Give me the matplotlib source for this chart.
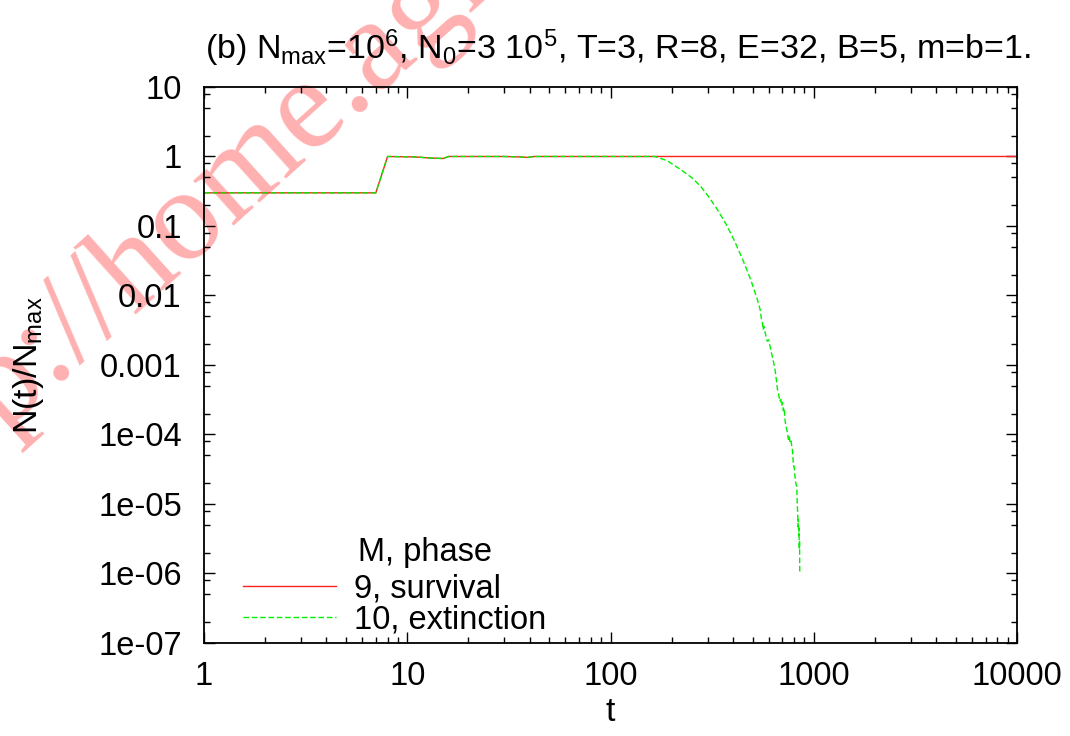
import matplotlib
matplotlib.use("Agg")
import matplotlib.pyplot as plt
from matplotlib.ticker import FixedLocator, LogLocator, NullFormatter

plt.rcParams["font.family"] = ["Liberation Sans", "DejaVu Sans"]
plt.rcParams["mathtext.fontset"] = "custom"
plt.rcParams["mathtext.rm"] = "Liberation Sans"
plt.rcParams["mathtext.it"] = "Liberation Sans:italic"
plt.rcParams["mathtext.default"] = "regular"

# ---- data -------------------------------------------------------------
# common history of both runs (t, N/Nmax)
t_early = [1, 7, 8, 11, 13, 15, 16, 30, 36, 39, 42, 100, 165]
n_early = [0.3, 0.3, 1.0, 0.985, 0.95, 0.935, 1.0, 1.0, 0.985, 0.97, 1.0, 1.0, 1.0]

# M = 9: population survives at the carrying capacity
t_survival_tail = [10000]
n_survival_tail = [1.0]

# M = 10: population goes extinct
t_extinction_tail = [190, 221, 250, 277, 305, 335, 370, 404, 445, 489, 528, 545,
                     553, 559, 563, 568, 575, 590, 600, 614, 630, 645, 655, 662,
                     670, 680, 688, 695, 701, 708, 715, 722, 730, 742, 750, 757,
                     765, 772, 780, 785, 790, 795, 800, 805, 812, 818, 825, 829,
                     833, 837, 840, 843, 846, 849, 851, 853]
n_extinction_tail = [0.87, 0.65, 0.50, 0.374, 0.26, 0.173, 0.107, 0.064, 0.034,
                     0.017, 8.7e-3, 6.2e-3, 4.5e-3, 4.1e-3, 3.2e-3, 3.6e-3, 3.0e-3,
                     2.2e-3, 2.3e-3, 1.66e-3, 1.2e-3, 8.5e-4, 6.0e-4, 4.5e-4, 4.0e-4,
                     3.0e-4, 3.2e-4, 2.6e-4, 2.9e-4, 2.2e-4, 2.4e-4, 1.6e-4, 1.3e-4,
                     1.07e-4, 8.5e-5, 9.5e-5, 7.5e-5, 8.0e-5, 6.8e-5, 6.0e-5, 4.5e-5,
                     3.5e-5, 3.5e-5, 2.8e-5, 2.2e-5, 1.9e-5, 1.8e-5, 1.0e-5, 7.5e-6,
                     4.7e-6, 6.0e-6, 3.5e-6, 4.5e-6, 2.2e-6, 3.0e-6, 1.0e-6]

series_labels = ["9, survival", "10, extinction"]
legend_title = "M, phase"

x_ticks = [1, 10, 100, 1000, 10000]
x_ticklabels = ["1", "10", "100", "1000", "10000"]
y_ticks = [1e-7, 1e-6, 1e-5, 1e-4, 1e-3, 1e-2, 1e-1, 1, 10]
y_ticklabels = ["1e-07", "1e-06", "1e-05", "1e-04", "0.001", "0.01", "0.1", "1", "10"]
y_minor_subs = [2, 5, 8]

title = (r"(b) N$_{max}$=10$^{6}$, N$_{0}$=3 10$^{5}$, "
         r"T=3, R=8, E=32, B=5, m=b=1.")

# ---- figure -----------------------------------------------------------
FS_TICK = 23.5
FS_TEXT = 24.5
FS_LEGEND = 23.5
fig = plt.figure(figsize=(10.70, 7.36), dpi=100)
ax = fig.add_axes([0.1907, 0.1264, 0.7598, 0.7554])
ax.patch.set_alpha(0)

t_surv = t_early + t_survival_tail
n_surv = n_early + n_survival_tail
t_ext = t_early + t_extinction_tail
n_ext = n_early + n_extinction_tail

ax.plot(t_surv, n_surv, color="#ff2020", lw=1.0, label=series_labels[0])
ax.plot(t_ext, n_ext, color="#00f000", lw=1.0, ls=(0, (4, 2)),
        label=series_labels[1])

ax.set_xscale("log")
ax.set_yscale("log")
ax.set_xlim(1, 10000)
ax.set_ylim(1e-7, 10)

ax.xaxis.set_major_locator(FixedLocator(x_ticks))
ax.set_xticklabels(x_ticklabels)
ax.xaxis.set_minor_locator(LogLocator(base=10, subs=range(2, 10), numticks=50))
ax.xaxis.set_minor_formatter(NullFormatter())

ax.yaxis.set_major_locator(FixedLocator(y_ticks))
ax.set_yticklabels(y_ticklabels)
y_minor = [s * d for d in y_ticks[:-1] for s in y_minor_subs]
ax.yaxis.set_minor_locator(FixedLocator(y_minor))
ax.yaxis.set_minor_formatter(NullFormatter())

ax.tick_params(which="both", direction="in", top=True, right=True,
               labelsize=FS_TICK, width=1.0)
ax.tick_params(which="major", length=8)
ax.tick_params(which="minor", length=4.5)
ax.tick_params(axis="x", which="major", pad=13)
ax.tick_params(axis="y", which="major", pad=16)
for sp in ax.spines.values():
    sp.set_linewidth(1.3)

ax.set_title(title, fontsize=FS_TEXT, pad=20, x=0.509)
ax.set_xlabel("t", fontsize=FS_TEXT)
ax.xaxis.set_label_coords(0.5, -0.097)
ax.xaxis.label.set_va("top")
ax.set_ylabel(r"N(t)/N$_{max}$", fontsize=FS_TEXT)
ax.yaxis.set_label_coords(-0.195, 0.5)

leg = ax.legend(loc="lower left", bbox_to_anchor=(0.048, 0.014), frameon=False,
                fontsize=FS_LEGEND, handlelength=2.85, handletextpad=0.55,
                labelspacing=0.0, borderpad=0.0, borderaxespad=0.0)
ax.text(0.272, 0.162, legend_title, transform=ax.transAxes, fontsize=FS_LEGEND,
        ha="center", va="center")

# watermark
fig.text(-100 / 1070, 1 - 525 / 736, "http://home.agh.edu.pl", rotation=42,
         rotation_mode="anchor", ha="left", va="baseline", fontsize=95,
         family="Liberation Serif", color="#ffb0b0", zorder=-5)

fig.savefig("out.png", dpi=100)
